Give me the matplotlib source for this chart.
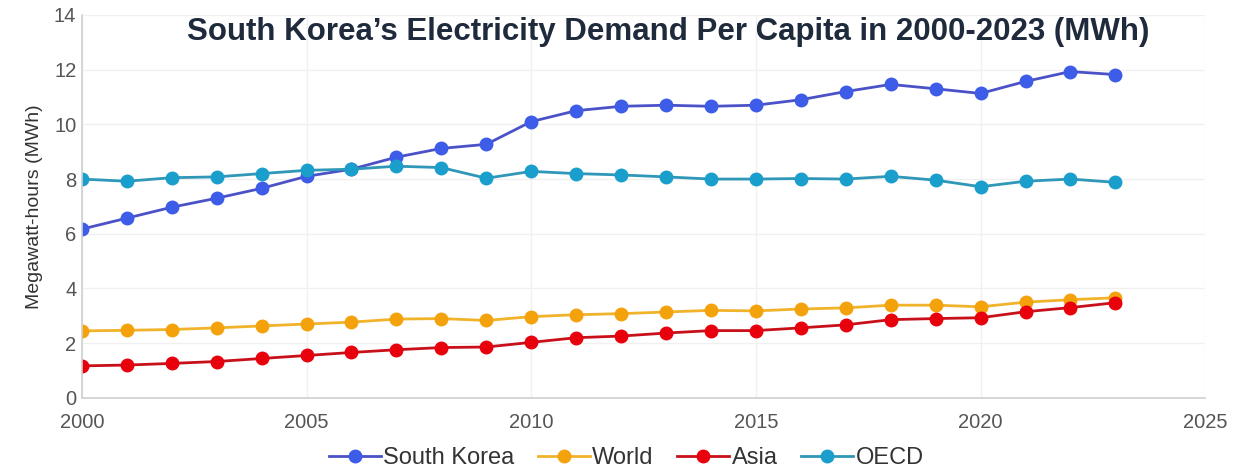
import matplotlib.pyplot as plt

# electricity demand per capita (MWh)
years = list(range(2000, 2024))
south_korea = [6.17, 6.57, 6.97, 7.3, 7.66, 8.1, 8.36, 8.8, 9.12, 9.27, 10.1, 10.5,
               10.66, 10.7, 10.66, 10.7, 10.9, 11.2, 11.46, 11.3, 11.13, 11.57, 11.93, 11.82]
world = [2.45, 2.47, 2.5, 2.56, 2.63, 2.7, 2.77, 2.88, 2.9, 2.83, 2.97, 3.04,
         3.08, 3.14, 3.2, 3.18, 3.25, 3.29, 3.39, 3.39, 3.33, 3.5, 3.59, 3.66]
asia = [1.17, 1.2, 1.26, 1.33, 1.44, 1.55, 1.66, 1.76, 1.84, 1.86, 2.03, 2.2,
        2.26, 2.37, 2.46, 2.46, 2.56, 2.67, 2.86, 2.9, 2.93, 3.15, 3.3, 3.48]
oecd = [8.0, 7.92, 8.05, 8.08, 8.2, 8.32, 8.36, 8.47, 8.42, 8.03, 8.28, 8.2,
        8.15, 8.08, 8.0, 8.0, 8.02, 8.0, 8.1, 7.96, 7.72, 7.92, 8.0, 7.88]

series = [("South Korea", south_korea, "#3d5ce8", "#4b52c8"),
          ("World", world, "#f4a20c", "#f0b32a"),
          ("Asia", asia, "#e8000c", "#c8101a"),
          ("OECD", oecd, "#1a9fcc", "#2f97b8")]

plt.rcParams['font.family'] = ['Liberation Sans', 'DejaVu Sans']

fig = plt.figure(figsize=(12.4, 4.67), dpi=100)
ax = fig.add_axes([0.066, 0.148, 0.906, 0.82])

for name, vals, mcol, lcol in series:
    ax.plot(years, vals, '-', color=lcol, lw=2, marker='o', markersize=9,
            markerfacecolor=mcol, markeredgecolor=mcol, label=name)

ax.set_xlim(2000, 2025)
ax.set_ylim(0, 14)
ax.set_xticks([2000, 2005, 2010, 2015, 2020, 2025])
ax.set_yticks(range(0, 15, 2))
ax.grid(True, color='#f0f0f0', lw=1)
ax.set_axisbelow(True)
for s in ['top', 'right']:
    ax.spines[s].set_visible(False)
for s in ['left', 'bottom']:
    ax.spines[s].set_color('#d0d0d0')
    ax.spines[s].set_linewidth(1.2)
ax.tick_params(axis='both', length=0, colors='#555555', labelsize=14.5)
ax.tick_params(axis='x', pad=11)
ax.tick_params(axis='y', pad=4)
ax.set_ylabel("Megawatt-hours (MWh)", fontsize=14, color='#333333', labelpad=8)

ax.text(0.522, 0.995, "South Korea\u2019s Electricity Demand Per Capita in 2000-2023 (MWh)",
        transform=ax.transAxes, ha='center', va='top', fontsize=22.5, fontweight='bold',
        color='#1f2b3c')

fig.legend(loc='lower center', bbox_to_anchor=(0.505, -0.05), ncol=4, frameon=False,
           fontsize=17, handlelength=2.2, handletextpad=0.1, columnspacing=1.0,
           labelcolor='#333333')

fig.savefig("out.png", dpi=100)
